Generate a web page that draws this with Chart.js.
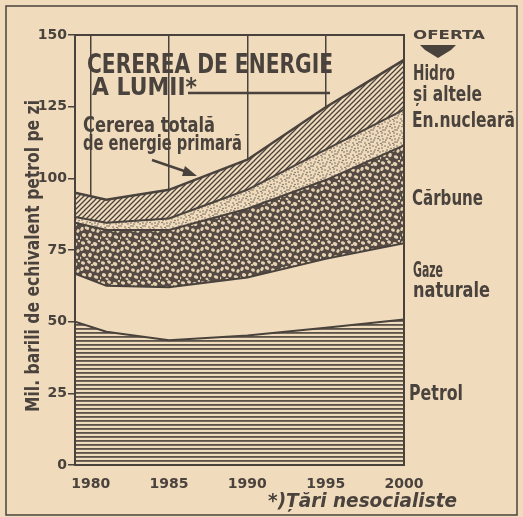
<!DOCTYPE html>
<html>
<head>
<meta charset="utf-8">
<script src="https://cdn.jsdelivr.net/npm/chart.js@4.4.1/dist/chart.umd.min.js"></script>
<style>
  body { margin: 0; background: #f0dcbd; }
  canvas { display: block; }
</style>
</head>
<body>
<canvas id="graficEnergie" width="523" height="517"></canvas>
<script>
// valori (mil. barili echivalent petrol pe zi)
const ani = [1979, 1981, 1985, 1990, 1995, 2000];
const petrol = [50, 46.5, 43.5, 45.2, 47.9, 50.8];
const gaze = [16.7, 16, 18.5, 20.2, 24, 26.6];
const carbune = [17.8, 19.5, 20, 24, 27.5, 34.1];
const nucleara = [2, 2.5, 4, 6.6, 10.6, 12.5];
const hidro = [8.5, 8, 10, 10.5, 14.8, 17.3];
const aniEticheta = [1980, 1985, 1990, 1995, 2000];

const HARTIE = '#f0dcbd';
const CERNEALA = '#4a423c';

function tile(w, h, deseneaza) {
    let c = document.createElement('canvas');
    c.width = w; c.height = h;
    let g = c.getContext('2d');
    g.fillStyle = HARTIE;
    g.fillRect(0, 0, w, h);
    deseneaza(g);
    return g.createPattern(c, 'repeat');
}

// hasuri pentru fiecare sursa
const modelPetrol = tile(8, 4, function(g) {
    g.fillStyle = 'rgba(74,66,60,0.9)';
    g.fillRect(0, 0, 8, 1.8);
});
const modelGaze = HARTIE;
const modelCarbune = tile(20, 20, function(g) {
    g.fillStyle = '#554b44';
    g.fillRect(0, 0, 20, 20);
    g.fillStyle = '#e6d2b2';
    const pietre = [[3,3,2.2,1.6],[9,2,2,1.5],[15,4,2.4,1.8],[2,9,1.6,2.1],[7,8,2.3,1.7],
        [13,10,2,1.6],[18,11,1.5,2],[4,15,2.2,1.8],[10,15,1.8,2.2],[16,17,2.3,1.6],
        [7,19,1.6,1],[12,5,1.2,1],[19,1,1.2,1.2],[0,18,1.2,1.4]];
    pietre.forEach(function(p) {
        g.beginPath();
        g.ellipse(p[0], p[1], p[2], p[3], 0.4, 0, Math.PI * 2);
        g.fill();
    });
});
const modelNucleara = tile(12, 12, function(g) {
    g.fillStyle = 'rgba(74,66,60,0.85)';
    const puncte = [[1,2],[6,1],[10,4],[3,6],[8,8],[1,10],[5,11],[11,10],[7,4.5],
        [4,3],[10,1],[2,8],[6,6.5],[9,11.5],[11,7]];
    puncte.forEach(function(p) {
        g.beginPath();
        g.arc(p[0], p[1], 0.75, 0, Math.PI * 2);
        g.fill();
    });
});
const modelHidro = tile(5, 5, function(g) {
    g.strokeStyle = CERNEALA;
    g.lineWidth = 1.3;
    g.beginPath();
    g.moveTo(-1, 6); g.lineTo(6, -1);
    g.moveTo(-3.5, 3.5); g.lineTo(3.5, -3.5);
    g.moveTo(1.5, 8.5); g.lineTo(8.5, 1.5);
    g.stroke();
});

function puncte(valori) {
    return valori.map(function(v, i) { return { x: ani[i], y: v }; });
}

function serie(nume, valori, model, umplere, grosime) {
    return {
        label: nume,
        data: puncte(valori),
        backgroundColor: model,
        borderColor: CERNEALA,
        borderWidth: grosime,
        pointRadius: 0,
        tension: 0,
        fill: umplere
    };
}

function text(ctx, s, x, y, latime, marime, stil) {
    ctx.save();
    ctx.font = (stil || 'bold') + ' ' + marime + 'px "DejaVu Sans"';
    let m = ctx.measureText(s).width;
    ctx.translate(x, y);
    ctx.scale(latime / m, 1);
    ctx.fillText(s, 0, 0);
    ctx.restore();
}

const adnotari = {
    id: 'adnotari',
    beforeDraw: function(chart) {
        let ctx = chart.ctx;
        ctx.save();
        ctx.strokeStyle = CERNEALA;
        ctx.lineWidth = 1.5;
        ctx.strokeRect(6, 6, 511, 509);
        ctx.restore();
    },
    afterDraw: function(chart) {
        let ctx = chart.ctx;
        let a = chart.chartArea;
        ctx.save();
        ctx.strokeStyle = CERNEALA;
        ctx.fillStyle = CERNEALA;
        ctx.lineWidth = 2;
        ctx.strokeRect(a.left, a.top, a.right - a.left, a.bottom - a.top);

        text(ctx, 'CEREREA DE ENERGIE', 87, 73, 246, 27);
        text(ctx, 'A LUMII*', 92, 95, 105, 25);
        ctx.lineWidth = 2.5;
        ctx.beginPath();
        ctx.moveTo(188, 93); ctx.lineTo(330, 93);
        ctx.stroke();

        text(ctx, 'Cererea totală', 83, 132, 132, 22);
        text(ctx, 'de energie primară', 83, 150, 159, 22);
        ctx.lineWidth = 2.5;
        ctx.beginPath();
        ctx.moveTo(152, 160); ctx.lineTo(190, 173);
        ctx.stroke();
        ctx.beginPath();
        ctx.moveTo(197, 176); ctx.lineTo(185, 166); ctx.lineTo(182, 176);
        ctx.closePath();
        ctx.fill();

        text(ctx, 'OFERTA', 413, 39, 72, 13);
        ctx.beginPath();
        ctx.moveTo(420, 45); ctx.lineTo(456, 45); ctx.lineTo(451, 50);
        ctx.lineTo(438, 58); ctx.lineTo(425, 50);
        ctx.closePath();
        ctx.fill();

        text(ctx, 'Hidro', 413, 80, 42, 21);
        text(ctx, 'și altele', 413, 101, 69, 21);
        text(ctx, 'En.nucleară', 412, 127, 103, 21);
        text(ctx, 'Cărbune', 412, 205, 71, 21);
        text(ctx, 'Gaze', 413, 277, 30, 21);
        text(ctx, 'naturale', 413, 297, 77, 21);
        text(ctx, 'Petrol', 409, 400, 54, 21);
        text(ctx, '*)Țări nesocialiste', 268, 507, 189, 20, 'italic bold');

        ctx.translate(39, 412);
        ctx.rotate(-Math.PI / 2);
        text(ctx, 'Mil. barili de echivalent petrol pe zi', 0, 0, 312, 19, 'bold');
        ctx.restore();
    }
};

new Chart(document.getElementById('graficEnergie'), {
    type: 'line',
    data: {
        datasets: [
            serie('Petrol', petrol, modelPetrol, 'origin', 2),
            serie('Gaze naturale', gaze, modelGaze, '-1', 2),
            serie('Cărbune', carbune, modelCarbune, '-1', 2),
            serie('En. nucleară', nucleara, modelNucleara, '-1', 2),
            serie('Hidro și altele', hidro, modelHidro, '-1', 2.5)
        ]
    },
    options: {
        responsive: false,
        animation: false,
        layout: { padding: { left: 0, top: 35, right: 119, bottom: 22 } },
        plugins: {
            legend: { display: false },
            tooltip: { enabled: false }
        },
        scales: {
            x: {
                type: 'linear',
                min: 1979,
                max: 2000,
                z: 1,
                afterFit: function(s) { s.height = 30; },
                afterBuildTicks: function(s) {
                    s.ticks = aniEticheta.map(function(v) { return { value: v }; });
                },
                grid: { color: CERNEALA, lineWidth: 1.5, drawTicks: false },
                border: { color: CERNEALA, width: 2 },
                ticks: {
                    color: CERNEALA,
                    padding: 11,
                    maxRotation: 0,
                    font: { family: 'DejaVu Sans', size: 14, weight: 'bold' },
                    callback: function(v) { return String(v); }
                }
            },
            y: {
                stacked: true,
                min: 0,
                max: 150,
                afterFit: function(s) { s.width = 75; },
                grid: { drawOnChartArea: false, color: CERNEALA, tickLength: 7, lineWidth: 1.5 },
                border: { color: CERNEALA, width: 2 },
                ticks: {
                    stepSize: 25,
                    color: CERNEALA,
                    padding: 1,
                    font: { family: 'DejaVu Sans', size: 14, weight: 'bold' }
                }
            }
        }
    },
    plugins: [adnotari]
});
</script>
</body>
</html>
